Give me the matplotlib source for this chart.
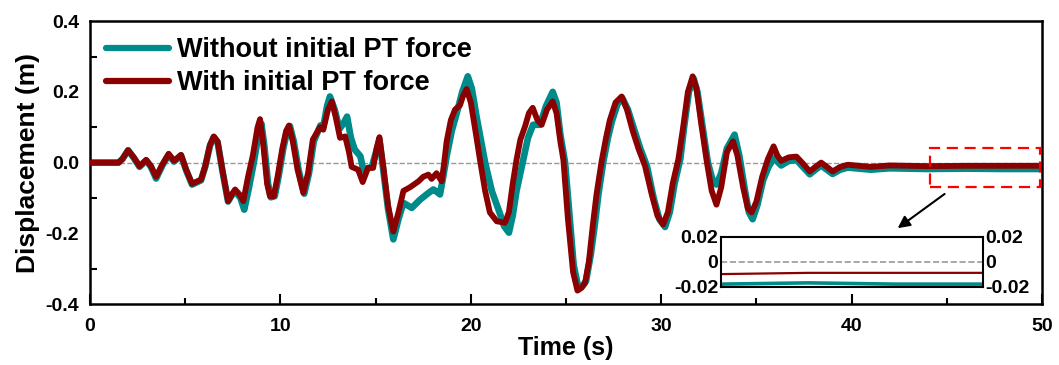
import matplotlib
matplotlib.use("Agg")
import matplotlib.pyplot as plt
from matplotlib.patches import Rectangle

plt.rcParams['font.family'] = ['Liberation Sans', 'DejaVu Sans']
plt.rcParams['font.weight'] = 'bold'

# time (s) / displacement (m)
t_with = [0, 1.5, 1.7, 2.0, 2.3, 2.6, 2.95, 3.2, 3.47, 3.8, 4.13, 4.41, 4.78, 5.05,
          5.36, 5.83, 6.05, 6.3, 6.5, 6.7, 6.95, 7.25, 7.45, 7.62, 7.85, 8.05, 8.3,
          8.55, 8.8, 8.93, 9.1, 9.3, 9.45, 9.65, 9.85, 10.1, 10.3, 10.45, 10.65, 10.9,
          11.2, 11.45, 11.7, 12.08, 12.25, 12.5, 12.7, 12.9, 13.13, 13.4, 13.6, 13.74,
          14.08, 14.32, 14.6, 14.87, 15.05, 15.2, 15.4, 15.65, 15.93, 16.2, 16.46,
          16.8, 17.25, 17.5, 17.77, 17.94, 18.2, 18.47, 18.6, 18.73, 18.95, 19.17,
          19.43, 19.6, 19.78, 20.0, 20.3, 20.48, 20.75, 21.0, 21.36, 21.8, 22.0, 22.2,
          22.4, 22.6, 22.85, 23.05, 23.25, 23.5, 23.72, 24.0, 24.3, 24.5, 24.7, 24.86,
          25.1, 25.37, 25.6, 25.8, 26.0, 26.2, 26.4, 26.6, 26.87, 27.1, 27.3, 27.6,
          27.92, 28.2, 28.5, 28.8, 29.15, 29.5, 29.8, 30.1, 30.35, 30.6, 30.9, 31.15,
          31.4, 31.65, 31.85, 32.1, 32.4, 32.65, 32.9, 33.15, 33.45, 33.77, 34.0, 34.3,
          34.55, 34.75, 35.0, 35.3, 35.6, 35.9, 36.1, 36.3, 36.7, 37.1, 37.4, 37.8,
          38.1, 38.4, 38.7, 39.0, 39.4, 39.8, 41, 42, 44, 46, 48, 50]
d_with = [0, 0, 0.01, 0.035, 0.015, -0.01, 0.008, -0.01, -0.04, -0.005, 0.025, 0.005,
          0.022, -0.02, -0.06, -0.048, -0.01, 0.05, 0.074, 0.06, -0.02, -0.109, -0.09,
          -0.076, -0.09, -0.109, -0.04, 0.02, 0.1, 0.123, 0.05, -0.06, -0.095, -0.095,
          -0.04, 0.04, 0.09, 0.105, 0.06, -0.02, -0.085, -0.03, 0.065, 0.10, 0.093,
          0.15, 0.173, 0.13, 0.07, 0.074, 0.03, -0.012, -0.02, -0.055, -0.015, -0.015,
          0.04, 0.072, -0.01, -0.12, -0.195, -0.14, -0.08, -0.07, -0.053, -0.04,
          -0.034, -0.046, -0.03, -0.053, 0.0, 0.06, 0.12, 0.15, 0.162, 0.19, 0.208,
          0.17, 0.07, 0.008, -0.08, -0.141, -0.166, -0.17, -0.14, -0.06, 0.008, 0.065,
          0.103, 0.14, 0.155, 0.12, 0.107, 0.15, 0.173, 0.14, 0.06, 0.008, -0.16,
          -0.31, -0.362, -0.355, -0.34, -0.28, -0.18, -0.09, 0.004, 0.07, 0.12, 0.17,
          0.187, 0.15, 0.09, 0.04, -0.01, -0.09, -0.15, -0.175, -0.14, -0.06, 0.01,
          0.1, 0.2, 0.244, 0.21, 0.11, 0.0, -0.08, -0.119, -0.07, 0.03, 0.06, 0.02,
          -0.07, -0.13, -0.141, -0.11, -0.04, 0.01, 0.046, 0.02, 0.005, 0.015, 0.017,
          0.0, -0.025, -0.012, 0.0, -0.012, -0.025, -0.012, -0.006, -0.012, -0.008,
          -0.01, -0.009, -0.009, -0.009]

t_without = [0, 1.5, 1.7, 2.0, 2.3, 2.6, 2.95, 3.2, 3.47, 3.8, 4.13, 4.41, 4.78, 5.05,
             5.36, 5.83, 6.05, 6.3, 6.5, 6.7, 6.95, 7.25, 7.45, 7.62, 7.9, 8.1, 8.35,
             8.6, 8.85, 9.0, 9.15, 9.35, 9.5, 9.7, 9.9, 10.15, 10.35, 10.5, 10.7,
             10.95, 11.25, 11.5, 11.75, 12.1, 12.25, 12.45, 12.6, 12.85, 13.1, 13.3,
             13.5, 13.7, 13.9, 14.2, 14.35, 14.8, 15.05, 15.2, 15.4, 15.65, 15.93,
             16.2, 16.46, 16.9, 17.33, 17.77, 18.03, 18.2, 18.38, 18.55, 18.73, 19.0,
             19.26, 19.55, 19.84, 20.05, 20.3, 20.75, 21.1, 21.5, 21.75, 22.0, 22.2,
             22.4, 22.75, 23.0, 23.27, 23.63, 23.95, 24.3, 24.5, 24.7, 24.95, 25.2,
             25.4, 25.65, 25.85, 26.05, 26.3, 26.5, 26.7, 26.95, 27.2, 27.4, 27.7,
             27.95, 28.25, 28.6, 28.9, 29.25, 29.6, 29.9, 30.2, 30.45, 30.7, 31.0,
             31.2, 31.45, 31.7, 31.9, 32.15, 32.45, 32.7, 32.9, 33.15, 33.45, 33.85,
             34.1, 34.4, 34.6, 34.8, 35.05, 35.35, 35.65, 35.95, 36.15, 36.3, 36.7,
             37.1, 37.4, 37.8, 38.1, 38.4, 38.7, 39.0, 39.4, 39.8, 41, 42, 44, 46,
             48, 50]
d_without = [0, 0, 0.01, 0.035, 0.013, -0.012, 0.006, -0.012, -0.045, -0.008, 0.022,
             0.003, 0.02, -0.022, -0.062, -0.05, -0.012, 0.048, 0.072, 0.058, -0.022,
             -0.11, -0.092, -0.08, -0.1, -0.133, -0.07, 0.0, 0.08, 0.11, 0.05, -0.06,
             -0.098, -0.095, -0.04, 0.04, 0.088, 0.103, 0.06, -0.02, -0.088, -0.03,
             0.06, 0.105, 0.1, 0.16, 0.187, 0.15, 0.095, 0.11, 0.13, 0.07, 0.037,
             0.018, -0.02, -0.012, 0.035, 0.065, -0.02, -0.13, -0.217, -0.16, -0.114,
             -0.128, -0.105, -0.086, -0.076, -0.082, -0.09, -0.04, 0.018, 0.09, 0.14,
             0.2, 0.244, 0.21, 0.13, 0.0, -0.08, -0.14, -0.18, -0.198, -0.15, -0.08,
             0.008, 0.07, 0.107, 0.107, 0.16, 0.2, 0.17, 0.08, 0.0, -0.16, -0.29,
             -0.355, -0.35, -0.335, -0.26, -0.18, -0.09, 0.0, 0.07, 0.115, 0.165,
             0.183, 0.15, 0.09, 0.04, -0.01, -0.1, -0.16, -0.182, -0.14, -0.06, 0.01,
             0.1, 0.2, 0.238, 0.2, 0.11, 0.0, -0.05, -0.062, -0.03, 0.04, 0.079, 0.02,
             -0.08, -0.14, -0.16, -0.12, -0.05, -0.01, 0.014, 0.0, -0.008, 0.005, 0.008,
             -0.01, -0.033, -0.02, -0.008, -0.02, -0.032, -0.02, -0.014, -0.02, -0.016,
             -0.018, -0.017, -0.018, -0.018]

teal = '#008b8b'
red = '#8b0000'

fig = plt.figure(figsize=(10.59, 3.65), dpi=100)
ax = fig.add_axes([0.085, 0.167, 0.899, 0.775])

ax.axhline(0, color='#999999', ls='--', lw=1.0, zorder=1)
ax.plot(t_without, d_without, color=teal, lw=4.8, label='Without initial PT force',
        solid_joinstyle='round', solid_capstyle='round', zorder=2)
ax.plot(t_with, d_with, color=red, lw=4.2, label='With initial PT force',
        solid_joinstyle='round', solid_capstyle='round', zorder=3)

ax.set_xlim(0, 50)
ax.set_ylim(-0.4, 0.4)
ax.set_xticks([0, 10, 20, 30, 40, 50])
ax.set_xticks([5, 15, 25, 35, 45], minor=True)
ax.set_yticks([-0.4, -0.2, 0.0, 0.2, 0.4])
ax.set_yticklabels(['-0.4', '-0.2', '0.0', '0.2', '0.4'])
ax.set_yticks([-0.3, -0.1, 0.1, 0.3], minor=True)
ax.tick_params(axis='x', which='major', direction='in', length=7, width=1.5,
               labelsize=14, pad=10)
ax.tick_params(axis='x', which='minor', direction='in', length=4, width=1.5)
ax.tick_params(axis='y', which='major', length=0, labelsize=14, pad=8)
ax.tick_params(axis='y', which='minor', direction='in', length=5, width=1.5)
for s in ax.spines.values():
    s.set_linewidth(1.8)

ax.set_xlabel('Time (s)', fontsize=18, fontweight='bold', labelpad=1)
ax.set_ylabel('Displacement (m)', fontsize=19, fontweight='bold', labelpad=4)

leg = ax.legend(loc='upper left', frameon=False, fontsize=19.5, handlelength=2.3,
                handletextpad=0.3, labelspacing=0.25, borderaxespad=0.2)
for line in leg.get_lines():
    line.set_linewidth(4.5)

# zoom box and arrow
ax.add_patch(Rectangle((44.1, -0.069), 5.8, 0.109, fill=False, ec='red',
                       ls=(0, (5, 3)), lw=1.6, zorder=4))
ax.annotate('', xy=(42.3, -0.19), xytext=(45.0, -0.084),
            arrowprops=dict(arrowstyle='-|>', color='black', lw=1.5,
                            mutation_scale=18))

# inset
ins = fig.add_axes([0.681, 0.213, 0.247, 0.139])
ins.axhline(0, color='#999999', ls='--', lw=1.2)
ins.plot(t_without, d_without, color=teal, lw=2.6)
ins.plot(t_with, d_with, color=red, lw=1.6)
ins.set_xlim(44, 50)
ins.set_ylim(-0.0205, 0.02)
ins.set_xticks([])
ins.set_yticks([-0.02, 0, 0.02])
ins.set_yticklabels(['-0.02', '0', '0.02'])
ins.tick_params(axis='y', length=0, labelsize=14, pad=2, labelright=True)
for s in ins.spines.values():
    s.set_linewidth(1.5)

fig.savefig('out.png', dpi=100)
